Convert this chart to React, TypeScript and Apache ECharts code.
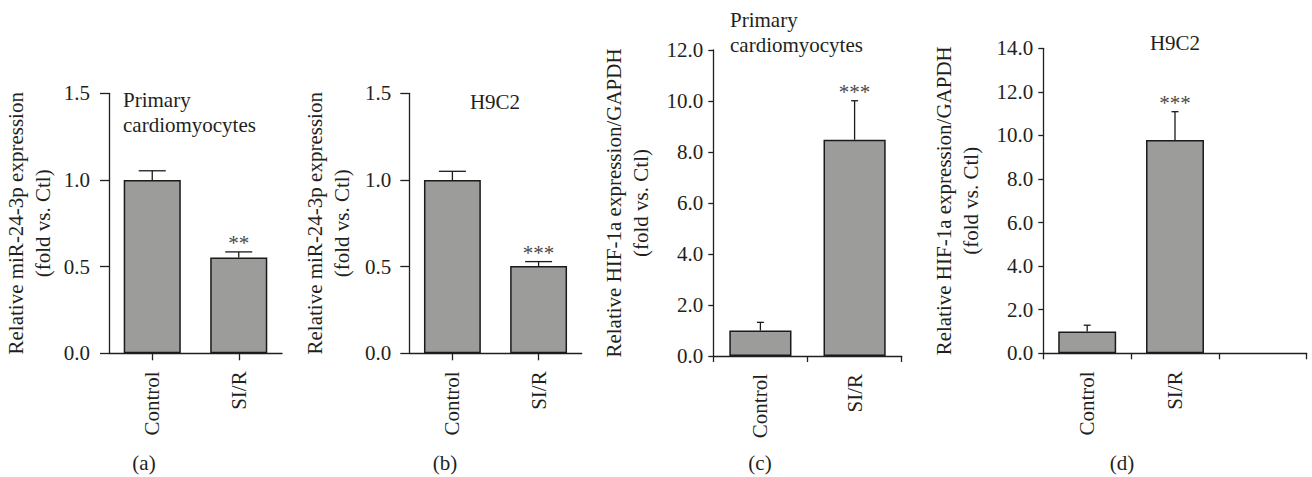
import React, { useEffect, useRef } from "react";
import * as echarts from "echarts";

// ---- data ----
const categoriesAB = ["Control", "SI/R"];
const categoriesC = ["Control", "SI/R"];
const categoriesD = ["Control", "SI/R", ""];

const meanA = [1.0, 0.552];
const upperA = [1.053, 0.585];
const sigA = ["", "**"];

const meanB = [1.0, 0.504];
const upperB = [1.05, 0.529];
const sigB = ["", "***"];

const meanC = [1.0, 8.48];
const upperC = [1.32, 10.01];
const sigC = ["", "***"];

const meanD = [1.0, 9.79];
const upperD = [1.29, 11.09];
const sigD = ["", "***"];

const yTicksAB = { min: 0, max: 1.5, interval: 0.5 };
const yTicksC = { min: 0, max: 12, interval: 2 };
const yTicksD = { min: 0, max: 14, interval: 2 };

const yNameMiR = "Relative miR-24-3p expression\n(fold vs. Ctl)";
const yNameHIF = "Relative HIF-1a expression/GAPDH\n(fold vs. Ctl)";

const FONT = "Liberation Serif";
const FS = 21;
const TEXT = "#231f20";
const BAR = "#9c9d9b";

function yAxis(grid: number, t: { min: number; max: number; interval: number }, name: string, tickLen: number, labelMargin: number, nameGap: number) {
  return {
    type: "value",
    gridIndex: grid,
    min: t.min,
    max: t.max,
    interval: t.interval,
    name,
    nameLocation: "middle",
    nameGap,
    nameRotate: 90,
    nameTextStyle: { fontFamily: FONT, fontSize: FS, color: TEXT, lineHeight: 27 },
    axisLine: { show: true, lineStyle: { color: TEXT, width: 1.3 } },
    axisTick: { show: true, length: tickLen, lineStyle: { color: TEXT, width: 1.3 } },
    axisLabel: {
      margin: labelMargin,
      fontFamily: FONT,
      fontSize: FS,
      color: TEXT,
      formatter: (v: number) => v.toFixed(1),
    },
    splitLine: { show: false },
  };
}

function xAxis(grid: number, data: string[], alignWithLabel: boolean, tickLen: number) {
  return {
    type: "category",
    gridIndex: grid,
    data,
    boundaryGap: true,
    axisLine: { show: true, lineStyle: { color: TEXT, width: 1.3 } },
    axisTick: { show: true, alignWithLabel, length: tickLen, lineStyle: { color: TEXT, width: 1.3 } },
    axisLabel: { rotate: 90, margin: 18, fontFamily: FONT, fontSize: FS, color: TEXT, interval: 0 },
    splitLine: { show: false },
  };
}

function barSeries(idx: number, data: number[]) {
  return {
    type: "bar",
    xAxisIndex: idx,
    yAxisIndex: idx,
    data,
    barWidth: "66%",
    itemStyle: { color: BAR, borderColor: "#1a1a1a", borderWidth: 1.5 },
    silent: true,
    z: 2,
  };
}

function errSeries(idx: number, mean: number[], upper: number[], sig: string[], cap: number) {
  return {
    type: "custom",
    xAxisIndex: idx,
    yAxisIndex: idx,
    data: mean.map((m, i) => [i, m, upper[i]]),
    z: 5,
    silent: true,
    renderItem: (params: any, api: any) => {
      const i = params.dataIndex;
      const p0 = api.coord([api.value(0), api.value(1)]);
      const p1 = api.coord([api.value(0), api.value(2)]);
      const ls = { stroke: "#1a1a1a", lineWidth: 1.3 };
      const children: any[] = [
        { type: "line", shape: { x1: p0[0], y1: p0[1], x2: p1[0], y2: p1[1] }, style: ls },
        { type: "line", shape: { x1: p1[0] - cap / 2, y1: p1[1], x2: p1[0] + cap / 2, y2: p1[1] }, style: ls },
      ];
      if (sig[i]) {
        children.push({
          type: "text",
          x: p1[0],
          y: p1[1] + 2,
          style: {
            text: sig[i],
            align: "center",
            verticalAlign: "bottom",
            fontFamily: FONT,
            fontSize: FS,
            fill: "#4a4a4a",
          },
        });
      }
      return { type: "group", children };
    },
  };
}

function label(text: string, x: number, y: number, align: string) {
  return {
    type: "text",
    x,
    y,
    style: { text, align, verticalAlign: "middle", fontFamily: FONT, fontSize: FS, fill: TEXT, lineHeight: 25 },
  };
}

export default function App() {
  const ref = useRef<HTMLDivElement>(null);
  useEffect(() => {
    if (!ref.current) return;
    const chart = echarts.init(ref.current, undefined, { renderer: "svg" });
    chart.setOption({
      animation: false,
      backgroundColor: "#ffffff",
      textStyle: { fontFamily: FONT },
      grid: [
        { left: 109, top: 93.3, width: 173, height: 260 },
        { left: 409.3, top: 93.3, width: 172.4, height: 260 },
        { left: 713.3, top: 50, width: 188.4, height: 306 },
        { left: 1043.3, top: 48.3, width: 263.4, height: 305 },
      ],
      xAxis: [
        xAxis(0, categoriesAB, true, 7),
        xAxis(1, categoriesAB, true, 7),
        xAxis(2, categoriesC, false, 6),
        xAxis(3, categoriesD, false, 6),
      ],
      yAxis: [
        yAxis(0, yTicksAB, yNameMiR, 9, 19, 53),
        yAxis(1, yTicksAB, yNameMiR, 9, 18, 54),
        yAxis(2, yTicksC, yNameHIF, 5, 10, 59),
        yAxis(3, yTicksD, yNameHIF, 5, 10, 59),
      ],
      series: [
        barSeries(0, meanA),
        errSeries(0, meanA, upperA, sigA, 27),
        barSeries(1, meanB),
        errSeries(1, meanB, upperB, sigB, 27),
        barSeries(2, meanC),
        errSeries(2, meanC, upperC, sigC, 7),
        barSeries(3, meanD),
        errSeries(3, meanD, upperD, sigD, 7),
      ],
      graphic: [
        label("Primary\ncardiomyocytes", 123, 112.5, "left"),
        label("H9C2", 495, 101.7, "center"),
        label("Primary\ncardiomyocytes", 730, 32.5, "left"),
        label("H9C2", 1175, 43, "center"),
        label("(a)", 144, 463, "center"),
        label("(b)", 445, 463, "center"),
        label("(c)", 760, 463, "center"),
        label("(d)", 1122, 463, "center"),
      ],
    });
    return () => chart.dispose();
  }, []);
  return (
    <div
      ref={ref}
      style={{ position: "absolute", left: 0, top: 0, width: 1312, height: 477, background: "#fff" }}
    />
  );
}
